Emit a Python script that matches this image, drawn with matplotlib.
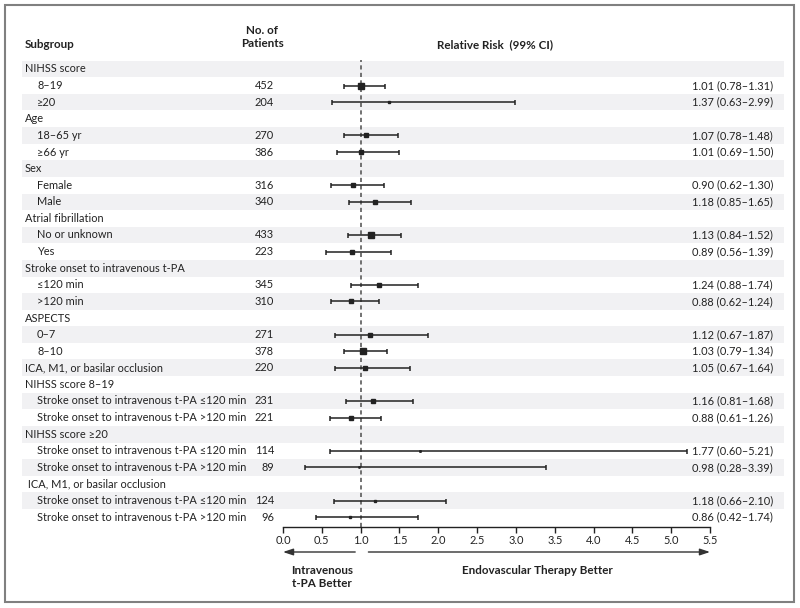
import matplotlib.pyplot as plt
import matplotlib.transforms as mtransforms
from matplotlib.patches import Rectangle
import numpy as np

plt.rcParams["font.family"] = ["Lato", "DejaVu Sans"]

labels = [
    "NIHSS score", "8\u201319", "\u226520",
    "Age", "18\u201365 yr", "\u226566 yr",
    "Sex", "Female", "Male",
    "Atrial fibrillation", "No or unknown", "Yes",
    "Stroke onset to intravenous t-PA", "\u2264120 min", ">120 min",
    "ASPECTS", "0\u20137", "8\u201310",
    "ICA, M1, or basilar occlusion",
    "NIHSS score 8\u201319",
    "Stroke onset to intravenous t-PA \u2264120 min",
    "Stroke onset to intravenous t-PA >120 min",
    "NIHSS score \u226520",
    "Stroke onset to intravenous t-PA \u2264120 min",
    "Stroke onset to intravenous t-PA >120 min",
    " ICA, M1, or basilar occlusion",
    "Stroke onset to intravenous t-PA \u2264120 min",
    "Stroke onset to intravenous t-PA >120 min",
]
is_header = [True, False, False, True, False, False, True, False, False,
             True, False, False, True, False, False, True, False, False,
             True, True, False, False, True, False, False, True, False, False]
patients = [None, 452, 204, None, 270, 386, None, 316, 340, None, 433, 223,
            None, 345, 310, None, 271, 378, 220, None, 231, 221, None, 114, 89,
            None, 124, 96]
rr = [None, 1.01, 1.37, None, 1.07, 1.01, None, 0.90, 1.18, None, 1.13, 0.89,
      None, 1.24, 0.88, None, 1.12, 1.03, 1.05, None, 1.16, 0.88, None, 1.77, 0.98,
      None, 1.18, 0.86]
ci_low = [None, 0.78, 0.63, None, 0.78, 0.69, None, 0.62, 0.85, None, 0.84, 0.56,
          None, 0.88, 0.62, None, 0.67, 0.79, 0.67, None, 0.81, 0.61, None, 0.60, 0.28,
          None, 0.66, 0.42]
ci_high = [None, 1.31, 2.99, None, 1.48, 1.50, None, 1.30, 1.65, None, 1.52, 1.39,
           None, 1.74, 1.24, None, 1.87, 1.34, 1.64, None, 1.68, 1.26, None, 5.21, 3.39,
           None, 2.10, 1.74]
xticks = [0.0, 0.5, 1.0, 1.5, 2.0, 2.5, 3.0, 3.5, 4.0, 4.5, 5.0, 5.5]

W, H = 800, 608
fig = plt.figure(figsize=(W / 100, H / 100), dpi=100)


def fx(px):
    return px / W


def fy(py):
    return 1 - py / H


# plot axes: x 0..5.5 maps to px 283..710, rows at 69 + 16.6*i
row0, step = 69, 16.6
top_px, bot_px = 60, 527
ax = fig.add_axes([fx(283), fy(bot_px), fx(710) - fx(283), fy(top_px) - fy(bot_px)])
ax.set_xlim(0, 5.5)
ax.set_ylim((bot_px - row0) / step, (top_px - row0) / step)
ax.patch.set_alpha(0)

trans = mtransforms.blended_transform_factory(fig.transFigure, ax.transData)
dark = "#222222"
fs = 7.9
fs_head = 8.4

n_rows = len(labels)
for i in range(n_rows):
    if i % 2 == 0:
        ax.add_patch(Rectangle((fx(22), i - 0.5), fx(784) - fx(22), 1.0,
                               transform=trans, facecolor="#f1f1f3",
                               edgecolor="none", clip_on=False, zorder=0))
    x_lab = 25 if is_header[i] else 37
    ax.text(fx(x_lab), i, labels[i], transform=trans, ha="left", va="center",
            fontsize=fs, color=dark)
    if patients[i] is not None:
        ax.text(fx(274), i, str(patients[i]), transform=trans, ha="right",
                va="center", fontsize=fs, color=dark)
    if rr[i] is not None:
        width = np.log(ci_high[i]) - np.log(ci_low[i])
        ax.errorbar(rr[i], i, xerr=[[rr[i] - ci_low[i]], [ci_high[i] - rr[i]]],
                    fmt="s", color=dark, ms=2.3 / width, capsize=1.8,
                    elinewidth=1.1, capthick=1.1, zorder=3)
        ax.text(fx(773), i, f"{rr[i]:.2f} ({ci_low[i]:.2f}\u2013{ci_high[i]:.2f})",
                transform=trans, ha="right", va="center", fontsize=fs, color=dark)

ax.axvline(1.0, color="#5a5a5a", lw=1.2, ls=(0, (2.5, 2)), zorder=2)

for side in ["top", "right", "left"]:
    ax.spines[side].set_visible(False)
ax.spines["bottom"].set_color(dark)
ax.spines["bottom"].set_linewidth(1.0)
ax.set_yticks([])
ax.set_xticks(xticks)
ax.set_xticklabels([f"{t:.1f}" for t in xticks])
ax.tick_params(axis="x", direction="out", length=4, width=1.0, color=dark,
               labelsize=fs, labelcolor=dark, pad=2)

# headers
fig.text(fx(25), fy(45), "Subgroup", ha="left", va="center", fontsize=fs_head,
         fontweight="bold", color=dark)
fig.text(fx(262), fy(37), "No. of\nPatients", ha="center", va="center",
         fontsize=fs_head, fontweight="bold", color=dark, linespacing=1.25)
fig.text(fx(495), fy(45), "Relative Risk  (99% CI)", ha="center", va="center",
         fontsize=fs_head, fontweight="bold", color=dark)

# direction arrows
atrans = mtransforms.blended_transform_factory(ax.transData, fig.transFigure)
arrow_kw = dict(arrowstyle="-|>,head_length=0.6,head_width=0.2", color="#333333", lw=1.0,
                shrinkA=0, shrinkB=0)
ax.annotate("", xy=(0.0, fy(552)), xytext=(0.93, fy(552)), xycoords=atrans,
            textcoords=atrans, arrowprops=arrow_kw)
ax.annotate("", xy=(5.5, fy(552)), xytext=(1.1, fy(552)), xycoords=atrans,
            textcoords=atrans, arrowprops=arrow_kw)
fig.text(fx(322), fy(577), "Intravenous\nt-PA Better", ha="center", va="center",
         fontsize=fs_head, fontweight="bold", color=dark, linespacing=1.25)
fig.text(fx(537), fy(570), "Endovascular Therapy Better", ha="center", va="center",
         fontsize=fs_head, fontweight="bold", color=dark)

# frame
fig.patches.append(Rectangle((fx(5), fy(602)), fx(794) - fx(5), fy(5) - fy(602),
                             transform=fig.transFigure, fill=False,
                             edgecolor="#808080", lw=1.5))

fig.savefig("out.png", dpi=100)
